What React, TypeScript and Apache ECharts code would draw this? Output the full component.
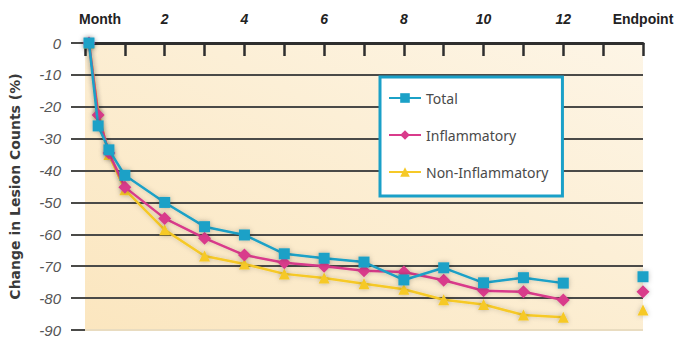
import React, { useEffect, useRef } from "react";
import * as echarts from "echarts";

const xMonths = [0.1, 0.33, 0.6, 1, 2, 3, 4, 5, 6, 7, 8, 9, 10, 11, 12];
const endpointX = 14;
const gapX = 13;

const totalValues = [0, -26, -33.5, -41.5, -50, -57.6, -60.2, -66.1, -67.5, -68.7, -74.3, -70.5, -75.2, -73.6, -75.3];
const totalEndpoint = -73.3;
const inflammatoryValues = [0, -22.6, -34.5, -45.2, -55, -61.2, -66.5, -68.9, -70, -71.4, -71.8, -74.4, -77.7, -78, -80.6];
const inflammatoryEndpoint = -78;
const nonInflammatoryValues = [0, -21.5, -35, -46, -58.6, -66.8, -69.3, -72.4, -73.7, -75.5, -77.2, -80.5, -82, -85.3, -86];
const nonInflammatoryEndpoint = -83.7;

const seriesNames = ["Total", "Inflammatory", "Non-Inflammatory"];
const seriesColors = ["#1ba1c7", "#d93b8b", "#f6c928"];
const seriesSymbols = ["rect", "diamond", "triangle"];

const yMin = -90;
const yMax = 0;
const yStep = 10;

function buildData(values: number[], endpoint: number) {
  const pts: any[] = xMonths.map((x, i) => [x, values[i]]);
  pts.push([gapX, "-"]);
  pts.push([endpointX, endpoint]);
  return pts;
}

export default function App() {
  const ref = useRef<HTMLDivElement>(null);
  useEffect(() => {
    if (!ref.current) return;
    const chart = echarts.init(ref.current, null, { renderer: "svg" });
    const allValues = [
      [totalValues, totalEndpoint],
      [inflammatoryValues, inflammatoryEndpoint],
      [nonInflammatoryValues, nonInflammatoryEndpoint],
    ] as [number[], number][];

    const splitColors: string[] = [];
    for (let v = yMin; v <= yMax; v += yStep) {
      splitColors.push(v === yMin ? "#e9dcc0" : "#4a4a48");
    }

    chart.setOption({
      animation: false,
      backgroundColor: "#ffffff",
      grid: {
        left: 83,
        right: 42,
        top: 43,
        bottom: 10,
        show: true,
        borderWidth: 0,
        backgroundColor: new echarts.graphic.LinearGradient(0, 1, 1, 0, [
          { offset: 0, color: "#fbe6bf" },
          { offset: 0.6, color: "#fcefd6" },
          { offset: 1, color: "#fdf5e6" },
        ]),
      },
      xAxis: {
        type: "value",
        position: "top",
        min: 0,
        max: 14,
        interval: 1,
        axisLine: { show: true, lineStyle: { color: "#2e2e2e", width: 3 } },
        axisTick: { show: true, inside: true, length: 13, lineStyle: { color: "#2e2e2e", width: 2.5 } },
        splitLine: { show: false },
        axisLabel: {
          margin: 17,
          formatter: (v: number) => {
            if (v === 0) return "{mo|Month}";
            if (v === 14) return "{ep|Endpoint}";
            if (v % 2 === 0) return "{n|" + v + "}";
            return "";
          },
          rich: {
            mo: { fontFamily: "Liberation Sans", fontWeight: "bold", fontSize: 14, color: "#222", padding: [0, 0, 0, 30] },
            ep: { fontFamily: "Liberation Sans", fontWeight: "bold", fontSize: 14, color: "#222" },
            n: { fontFamily: "Liberation Sans", fontWeight: "bold", fontStyle: "italic", fontSize: 14, color: "#222" },
          },
        },
      },
      yAxis: {
        type: "value",
        min: yMin,
        max: yMax,
        interval: yStep,
        name: "Change in Lesion Counts (%)",
        nameLocation: "middle",
        nameGap: 63,
        nameRotate: 90,
        nameTextStyle: { fontFamily: "DejaVu Sans", fontWeight: "bold", fontSize: 14, color: "#3a3a3a" },
        axisLine: { show: false },
        axisTick: { show: true, length: 14, lineStyle: { color: "#4a4a48", width: 2 } },
        splitLine: { show: true, lineStyle: { color: splitColors, width: 2 } },
        axisLabel: {
          margin: 24,
          fontFamily: "Liberation Sans",
          fontStyle: "italic",
          fontSize: 15,
          color: "#555",
          formatter: (v: number) => String(v),
        },
      },
      legend: {
        left: 380,
        top: 77,
        orient: "vertical",
        backgroundColor: "#ffffff",
        borderColor: "#1aa0c8",
        borderWidth: 3,
        borderRadius: 0,
        padding: [14, 14, 17, 8],
        itemGap: 23,
        itemWidth: 32,
        itemHeight: 12,
        textStyle: { fontFamily: "Noto Sans", fontSize: 14, color: "#4a4a4a" },
        data: seriesNames,
      },
      series: allValues.map(([vals, ep], i) => ({
        name: seriesNames[i],
        type: "line",
        data: buildData(vals, ep),
        connectNulls: false,
        symbol: seriesSymbols[i],
        symbolSize: i === 1 ? 13 : 11,
        showAllSymbol: true,
        color: seriesColors[i],
        lineStyle: { width: 2.5, color: seriesColors[i], shadowBlur: 5, shadowColor: "rgba(0,0,0,0.2)" },
        itemStyle: { color: seriesColors[i], shadowBlur: 5, shadowColor: "rgba(0,0,0,0.25)" },
        z: 3 - i,
      })),
    });
    return () => chart.dispose();
  }, []);
  return <div ref={ref} style={{ position: "fixed", left: 0, top: 0, width: 685, height: 340 }} />;
}
